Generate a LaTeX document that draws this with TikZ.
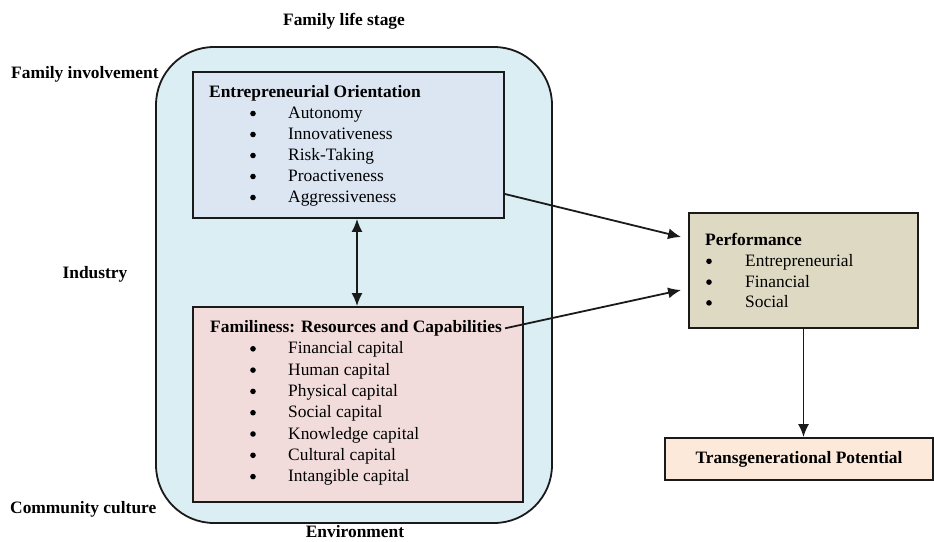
\documentclass[tikz,border=0pt]{standalone}
\usepackage{fontspec}
\setmainfont{Liberation Serif}
\usetikzlibrary{arrows.meta}
\definecolor{envfill}{HTML}{DAEEF3}
\definecolor{eofill}{HTML}{DCE6F2}
\definecolor{famfill}{HTML}{F2DCDB}
\definecolor{perffill}{HTML}{DDD9C3}
\definecolor{tpfill}{HTML}{FDE9D9}
\definecolor{edge}{HTML}{1A1A1A}
\tikzset{
  txt/.style={inner sep=0pt, font=\fontsize{17.4}{21}\selectfont},
  btxt/.style={txt, font=\fontsize{17.4}{21}\selectfont\bfseries},
  boxed/.style={draw=edge, line width=1.8pt, rectangle, inner sep=0pt},
  bul/.style={circle, fill=black, inner sep=0pt, minimum size=5.6pt},
  arr/.style={line width=1.8pt, draw=edge, -{Latex[length=13pt,width=11pt]}},
  darr/.style={line width=1.8pt, draw=edge, {Latex[length=13pt,width=11pt]}-{Latex[length=13pt,width=11pt]}},
}
\begin{document}
\begin{tikzpicture}[x=1pt,y=-1pt]
\useasboundingbox (0,0) rectangle (934,541);
% environment
\node[boxed, fill=envfill, rounded corners=58pt, minimum width=396pt, minimum height=476pt] (env) at (354,285) {};
% EO box
\node[boxed, fill=eofill, minimum width=311pt, minimum height=146pt] (eo) at (348.5,145) {};
% Familiness box
\node[boxed, fill=famfill, minimum width=330pt, minimum height=195pt] (fam) at (358,404.5) {};
% Performance box
\node[boxed, fill=perffill, minimum width=229pt, minimum height=115pt] (perf) at (803.5,270.5) {};
% Transgenerational box
\node[boxed, fill=tpfill, minimum width=268pt, minimum height=42pt, btxt] (tp) at (799,459) {Transgenerational Potential};

% EO text
\node[btxt, anchor=base west] (eot) at (209,97.5) {Entrepreneurial Orientation};
\foreach \t [count=\i] in {Autonomy, Innovativeness, Risk-Taking, Proactiveness, Aggressiveness}{
  \node[bul] (eob\i) at (253,92.5+21*\i) {};
  \node[txt, anchor=base west] (eoi\i) at (288,97.5+21*\i) {\t};
}
% Familiness text
\node[btxt, anchor=base west] (famt) at (210,332.5) {Familiness: Resources and Capabilities};
\foreach \t [count=\i] in {Financial capital, Human capital, Physical capital, Social capital, Knowledge capital, Cultural capital, Intangible capital}{
  \node[bul] (famb\i) at (253,327.5+21.3*\i) {};
  \node[txt, anchor=base west] (fami\i) at (288,332.5+21.3*\i) {\t};
}
% Performance text
\node[btxt, anchor=base west] (perft) at (705,245.5) {Performance};
\foreach \t [count=\i] in {Entrepreneurial, Financial, Social}{
  \node[bul] (perfb\i) at (709,240.5+20.8*\i) {};
  \node[txt, anchor=base west] (perfi\i) at (745,245.5+20.8*\i) {\t};
}

% outer labels
\node[btxt] (lifestage) at (344,21) {Family life stage};
\node[btxt, anchor=west] (involve) at (11,74) {Family involvement};
\node[btxt] (industry) at (95,274) {Industry};
\node[btxt, anchor=west] (community) at (10,509) {Community culture};
\node[btxt] (environment) at (355,532) {Environment};

% connectors
\coordinate (eoout) at (eo.east |- 0,194);
\coordinate (perfin1) at ([xshift=-7pt]perf.west |- 0,237);
\coordinate (perfin2) at ([xshift=-7pt]perf.west |- 0,290);
\draw[arr] (eoout) -- (perfin1);
\draw[arr] ([xshift=3pt]famt.east) -- (perfin2);
\draw[darr] (eo.south -| 357,0) -- (fam.north -| 357,0);
\draw[arr] (perf.south) -- (tp.north -| perf.south);
\end{tikzpicture}
\end{document}
